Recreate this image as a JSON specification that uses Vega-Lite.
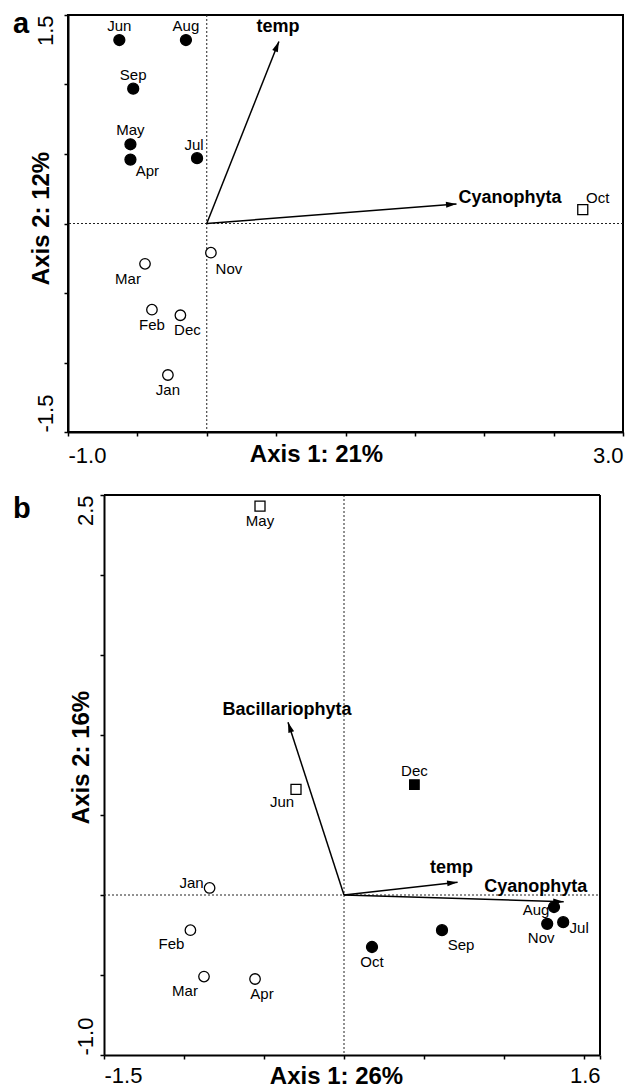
{
  "$schema": "https://vega.github.io/schema/vega-lite/v6.json",
  "background": "white",
  "padding": {"left": 12, "top": 9, "right": 0, "bottom": 0},
  "spacing": 27,
  "config": {
    "font": "Liberation Sans",
    "view": {"stroke": "black", "strokeWidth": 2},
    "axis": {"domainColor": "black", "domainWidth": 2, "tickColor": "black", "tickWidth": 1.5, "tickSize": 4, "labelColor": "black", "labelFontSize": 22, "labelFont": "Liberation Sans", "titleColor": "black", "titleFontSize": 24, "titleFontWeight": "bold", "titleFont": "Liberation Sans", "grid": false},
    "title": {"font": "Liberation Sans", "fontSize": 29, "fontWeight": "bold", "color": "black", "anchor": "start", "frame": "group", "baseline": "alphabetic", "offset": 0}
  },
  "datasets": {
    "pa": [
      {"m": "Jun", "x": -0.63, "y": 1.32, "g": 1},
      {"m": "Aug", "x": -0.15, "y": 1.32, "g": 1},
      {"m": "Sep", "x": -0.53, "y": 0.97, "g": 1},
      {"m": "May", "x": -0.55, "y": 0.57, "g": 1},
      {"m": "Apr", "x": -0.55, "y": 0.46, "g": 1},
      {"m": "Jul", "x": -0.07, "y": 0.47, "g": 1},
      {"m": "Nov", "x": 0.03, "y": -0.21, "g": 2},
      {"m": "Mar", "x": -0.445, "y": -0.29, "g": 2},
      {"m": "Feb", "x": -0.395, "y": -0.62, "g": 2},
      {"m": "Dec", "x": -0.19, "y": -0.66, "g": 2},
      {"m": "Jan", "x": -0.28, "y": -1.09, "g": 2},
      {"m": "Oct", "x": 2.71, "y": 0.10, "g": 3}
    ],
    "va": [
      {"name": "temp", "x": 0.52, "y": 1.31},
      {"name": "Cyanophyta", "x": 1.80, "y": 0.14}
    ],
    "pb": [
      {"m": "May", "x": -0.525, "y": 2.43, "g": 3},
      {"m": "Jun", "x": -0.30, "y": 0.66, "g": 3},
      {"m": "Dec", "x": 0.44, "y": 0.69, "g": 4},
      {"m": "Jan", "x": -0.84, "y": 0.044, "g": 2},
      {"m": "Feb", "x": -0.96, "y": -0.22, "g": 2},
      {"m": "Mar", "x": -0.875, "y": -0.51, "g": 2},
      {"m": "Apr", "x": -0.556, "y": -0.525, "g": 2},
      {"m": "Oct", "x": 0.175, "y": -0.325, "g": 1},
      {"m": "Sep", "x": 0.6125, "y": -0.22, "g": 1},
      {"m": "Aug", "x": 1.3125, "y": -0.075, "g": 1},
      {"m": "Nov", "x": 1.27, "y": -0.18, "g": 1},
      {"m": "Jul", "x": 1.37, "y": -0.17, "g": 1}
    ],
    "vb": [
      {"name": "Bacillariophyta", "x": -0.35, "y": 1.08},
      {"name": "temp", "x": 0.71, "y": 0.08},
      {"name": "Cyanophyta", "x": 1.373, "y": -0.042}
    ]
  },
  "vconcat": [
    {
      "width": 555,
      "height": 417,
      "title": {"text": "a", "dx": -55, "dy": 29},
      "layer": [
        {
          "data": {"values": [{}]},
          "mark": {"type": "rule", "strokeDash": [2, 2], "color": "#222", "strokeWidth": 1},
          "encoding": {"x": {"datum": 0, "type": "quantitative"}}
        },
        {
          "data": {"values": [{}]},
          "mark": {"type": "rule", "strokeDash": [2, 2], "color": "#222", "strokeWidth": 1},
          "encoding": {"y": {"datum": 0, "type": "quantitative"}}
        },
        {
          "data": {"name": "va"},
          "mark": {"type": "rule", "color": "black", "strokeWidth": 1.5},
          "encoding": {
            "x": {"field": "x", "type": "quantitative"},
            "y": {"field": "y", "type": "quantitative"},
            "x2": {"datum": 0},
            "y2": {"datum": 0}
          }
        },
        {
          "data": {"name": "va"},
          "mark": {"type": "point", "shape": "M0,0L-1,3.5L1,3.5Z", "size": 36, "filled": true, "color": "black", "opacity": 1, "angle": {"expr": "90 - atan2(datum.y, datum.x) * 180 / PI"}},
          "encoding": {
            "x": {"field": "x", "type": "quantitative"},
            "y": {"field": "y", "type": "quantitative"}
          }
        },
        {
          "data": {"name": "pa"},
          "mark": {"type": "point", "stroke": "black", "strokeWidth": 1.3, "opacity": 1},
          "encoding": {
            "x": {"field": "x", "type": "quantitative", "scale": {"domain": [-1, 3], "nice": false, "zero": false},
              "axis": {"values": [-1, -0.5, 0, 0.5, 1, 1.5, 2, 2.5, 3], "labelExpr": "datum.value == -1 ? '-1.0' : datum.value == 3 ? '3.0' : ''", "labelFlush": true, "labelOverlap": false, "labelPadding": 9, "title": "Axis 1: 21%", "titleX": 248, "titleY": 29, "titleBaseline": "alphabetic", "titleAlign": "center"}},
            "y": {"field": "y", "type": "quantitative", "scale": {"domain": [-1.5, 1.5], "nice": false, "zero": false},
              "axis": {"values": [-1.5, -1, -0.5, 0, 0.5, 1, 1.5], "labelExpr": "datum.value == 1.5 ? '1.5' : datum.value == -1.5 ? '-1.5' : ''", "labelAngle": 270, "labelAlign": {"condition": {"test": "datum.value > 0", "value": "right"}, "value": "left"}, "labelBaseline": "alphabetic", "labelPadding": 12, "labelOverlap": false, "title": "Axis 2: 12%", "titleX": -20, "titleY": 203, "titleAngle": 270, "titleBaseline": "alphabetic", "titleAlign": "center"}},
            "fill": {"field": "g", "type": "ordinal", "scale": {"domain": [1, 2, 3, 4], "range": ["black", "white", "white", "black"]}, "legend": null},
            "shape": {"field": "g", "type": "ordinal", "scale": {"domain": [1, 2, 3, 4], "range": ["circle", "circle", "square", "square"]}, "legend": null},
            "size": {"field": "g", "type": "ordinal", "scale": {"domain": [1, 2, 3, 4], "range": [120, 90, 100, 121]}, "legend": null}
          }
        },
        {
          "data": {"name": "pa"},
          "transform": [{"filter": {"field": "m", "oneOf": ["Jun", "Aug", "Sep", "May"]}}],
          "mark": {"type": "text", "fontSize": 15, "color": "black", "baseline": "middle", "align": "center", "dx": 0, "dy": -14},
          "encoding": {"x": {"field": "x", "type": "quantitative"}, "y": {"field": "y", "type": "quantitative"}, "text": {"field": "m"}}
        },
        {
          "data": {"name": "pa"},
          "transform": [{"filter": {"field": "m", "oneOf": ["Jul"]}}],
          "mark": {"type": "text", "fontSize": 15, "color": "black", "baseline": "middle", "align": "center", "dx": -3, "dy": -13},
          "encoding": {"x": {"field": "x", "type": "quantitative"}, "y": {"field": "y", "type": "quantitative"}, "text": {"field": "m"}}
        },
        {
          "data": {"name": "pa"},
          "transform": [{"filter": {"field": "m", "oneOf": ["Feb", "Jan"]}}],
          "mark": {"type": "text", "fontSize": 15, "color": "black", "baseline": "middle", "align": "center", "dx": 0, "dy": 15},
          "encoding": {"x": {"field": "x", "type": "quantitative"}, "y": {"field": "y", "type": "quantitative"}, "text": {"field": "m"}}
        },
        {
          "data": {"name": "pa"},
          "transform": [{"filter": {"field": "m", "oneOf": ["Dec"]}}],
          "mark": {"type": "text", "fontSize": 15, "color": "black", "baseline": "middle", "align": "center", "dx": 7, "dy": 15},
          "encoding": {"x": {"field": "x", "type": "quantitative"}, "y": {"field": "y", "type": "quantitative"}, "text": {"field": "m"}}
        },
        {
          "data": {"name": "pa"},
          "transform": [{"filter": {"field": "m", "oneOf": ["Apr"]}}],
          "mark": {"type": "text", "fontSize": 15, "color": "black", "baseline": "middle", "align": "center", "dx": 17, "dy": 11},
          "encoding": {"x": {"field": "x", "type": "quantitative"}, "y": {"field": "y", "type": "quantitative"}, "text": {"field": "m"}}
        },
        {
          "data": {"name": "pa"},
          "transform": [{"filter": {"field": "m", "oneOf": ["Nov"]}}],
          "mark": {"type": "text", "fontSize": 15, "color": "black", "baseline": "middle", "align": "center", "dx": 18, "dy": 16},
          "encoding": {"x": {"field": "x", "type": "quantitative"}, "y": {"field": "y", "type": "quantitative"}, "text": {"field": "m"}}
        },
        {
          "data": {"name": "pa"},
          "transform": [{"filter": {"field": "m", "oneOf": ["Mar"]}}],
          "mark": {"type": "text", "fontSize": 15, "color": "black", "baseline": "middle", "align": "center", "dx": -17, "dy": 15},
          "encoding": {"x": {"field": "x", "type": "quantitative"}, "y": {"field": "y", "type": "quantitative"}, "text": {"field": "m"}}
        },
        {
          "data": {"name": "pa"},
          "transform": [{"filter": {"field": "m", "oneOf": ["Oct"]}}],
          "mark": {"type": "text", "fontSize": 15, "color": "black", "baseline": "middle", "align": "center", "dx": 15, "dy": -12},
          "encoding": {"x": {"field": "x", "type": "quantitative"}, "y": {"field": "y", "type": "quantitative"}, "text": {"field": "m"}}
        },
        {
          "data": {"name": "va"},
          "transform": [{"filter": {"field": "name", "oneOf": ["temp"]}}],
          "mark": {"type": "text", "fontSize": 18, "fontWeight": "bold", "color": "black", "baseline": "middle", "align": "center", "dx": -1, "dy": -14},
          "encoding": {"x": {"field": "x", "type": "quantitative"}, "y": {"field": "y", "type": "quantitative"}, "text": {"field": "name"}}
        },
        {
          "data": {"name": "va"},
          "transform": [{"filter": {"field": "name", "oneOf": ["Cyanophyta"]}}],
          "mark": {"type": "text", "fontSize": 18, "fontWeight": "bold", "color": "black", "baseline": "middle", "align": "left", "dx": 2, "dy": -6},
          "encoding": {"x": {"field": "x", "type": "quantitative"}, "y": {"field": "y", "type": "quantitative"}, "text": {"field": "name"}}
        }
      ]
    },
    {
      "width": 532,
      "height": 560,
      "view": {"stroke": null},
      "title": {"text": "b", "dx": -55, "dy": 34},
      "layer": [
        {
          "data": {"values": [{}]},
          "mark": {"type": "rule", "strokeDash": [2, 2], "color": "#222", "strokeWidth": 1},
          "encoding": {"x": {"datum": 0, "type": "quantitative"}}
        },
        {
          "data": {"values": [{}]},
          "mark": {"type": "rule", "strokeDash": [2, 2], "color": "#222", "strokeWidth": 1},
          "encoding": {"y": {"datum": 0, "type": "quantitative"}, "x": {"datum": -1.5, "type": "quantitative"}, "x2": {"datum": 1.6}}
        },
        {
          "data": {"values": [{}]},
          "mark": {"type": "rule", "color": "black", "strokeWidth": 2},
          "encoding": {"y": {"datum": 2.5, "type": "quantitative"}, "x": {"datum": -1.5, "type": "quantitative"}, "x2": {"datum": 1.6}}
        },
        {
          "data": {"values": [{}]},
          "mark": {"type": "rule", "color": "black", "strokeWidth": 2},
          "encoding": {"x": {"datum": 1.6, "type": "quantitative"}}
        },
        {
          "data": {"name": "vb"},
          "mark": {"type": "rule", "color": "black", "strokeWidth": 1.5},
          "encoding": {
            "x": {"field": "x", "type": "quantitative"},
            "y": {"field": "y", "type": "quantitative"},
            "x2": {"datum": 0},
            "y2": {"datum": 0}
          }
        },
        {
          "data": {"name": "vb"},
          "mark": {"type": "point", "shape": "M0,0L-1,3.5L1,3.5Z", "size": 36, "filled": true, "color": "black", "opacity": 1, "angle": {"expr": "90 - atan2(datum.y, datum.x) * 180 / PI"}},
          "encoding": {
            "x": {"field": "x", "type": "quantitative"},
            "y": {"field": "y", "type": "quantitative"}
          }
        },
        {
          "data": {"name": "pb"},
          "mark": {"type": "point", "stroke": "black", "strokeWidth": 1.3, "opacity": 1},
          "encoding": {
            "x": {"field": "x", "type": "quantitative", "scale": {"domain": [-1.5, 1.6], "nice": false, "zero": false, "range": [36, 532]},
              "axis": {"values": [-1.5, -1, -0.5, 0, 0.5, 1, 1.5, 1.6], "labelExpr": "datum.value == -1.5 ? '-1.5' : datum.value == 1.6 ? '1.6' : ''", "labelFlush": true, "labelOverlap": false, "labelPadding": 6, "title": "Axis 1: 26%", "titleX": 268, "titleY": 28, "titleBaseline": "alphabetic", "titleAlign": "center"}},
            "y": {"field": "y", "type": "quantitative", "scale": {"domain": [-1, 2.5], "nice": false, "zero": false},
              "axis": {"offset": -36, "values": [-1, -0.5, 0, 0.5, 1, 1.5, 2, 2.5], "labelExpr": "datum.value == 2.5 ? '2.5' : datum.value == -1 ? '-1.0' : ''", "labelAngle": 270, "labelAlign": {"condition": {"test": "datum.value > 0", "value": "right"}, "value": "left"}, "labelBaseline": "alphabetic", "labelPadding": 8, "labelOverlap": false, "title": "Axis 2: 16%", "titleX": -16, "titleY": 262, "titleAngle": 270, "titleBaseline": "alphabetic", "titleAlign": "center"}},
            "fill": {"field": "g", "type": "ordinal", "scale": {"domain": [1, 2, 3, 4], "range": ["black", "white", "white", "black"]}, "legend": null},
            "shape": {"field": "g", "type": "ordinal", "scale": {"domain": [1, 2, 3, 4], "range": ["circle", "circle", "square", "square"]}, "legend": null},
            "size": {"field": "g", "type": "ordinal", "scale": {"domain": [1, 2, 3, 4], "range": [120, 90, 110, 121]}, "legend": null}
          }
        },
        {
          "data": {"name": "pb"},
          "transform": [{"filter": {"field": "m", "oneOf": ["May", "Oct"]}}],
          "mark": {"type": "text", "fontSize": 15, "color": "black", "baseline": "middle", "align": "center", "dx": 0, "dy": 15},
          "encoding": {"x": {"field": "x", "type": "quantitative"}, "y": {"field": "y", "type": "quantitative"}, "text": {"field": "m"}}
        },
        {
          "data": {"name": "pb"},
          "transform": [{"filter": {"field": "m", "oneOf": ["Jun"]}}],
          "mark": {"type": "text", "fontSize": 15, "color": "black", "baseline": "middle", "align": "center", "dx": -14, "dy": 13},
          "encoding": {"x": {"field": "x", "type": "quantitative"}, "y": {"field": "y", "type": "quantitative"}, "text": {"field": "m"}}
        },
        {
          "data": {"name": "pb"},
          "transform": [{"filter": {"field": "m", "oneOf": ["Dec"]}}],
          "mark": {"type": "text", "fontSize": 15, "color": "black", "baseline": "middle", "align": "center", "dx": 0, "dy": -14},
          "encoding": {"x": {"field": "x", "type": "quantitative"}, "y": {"field": "y", "type": "quantitative"}, "text": {"field": "m"}}
        },
        {
          "data": {"name": "pb"},
          "transform": [{"filter": {"field": "m", "oneOf": ["Jan"]}}],
          "mark": {"type": "text", "fontSize": 15, "color": "black", "baseline": "middle", "align": "center", "dx": -18, "dy": -5},
          "encoding": {"x": {"field": "x", "type": "quantitative"}, "y": {"field": "y", "type": "quantitative"}, "text": {"field": "m"}}
        },
        {
          "data": {"name": "pb"},
          "transform": [{"filter": {"field": "m", "oneOf": ["Feb", "Mar"]}}],
          "mark": {"type": "text", "fontSize": 15, "color": "black", "baseline": "middle", "align": "center", "dx": -19, "dy": 14},
          "encoding": {"x": {"field": "x", "type": "quantitative"}, "y": {"field": "y", "type": "quantitative"}, "text": {"field": "m"}}
        },
        {
          "data": {"name": "pb"},
          "transform": [{"filter": {"field": "m", "oneOf": ["Apr"]}}],
          "mark": {"type": "text", "fontSize": 15, "color": "black", "baseline": "middle", "align": "center", "dx": 7, "dy": 15},
          "encoding": {"x": {"field": "x", "type": "quantitative"}, "y": {"field": "y", "type": "quantitative"}, "text": {"field": "m"}}
        },
        {
          "data": {"name": "pb"},
          "transform": [{"filter": {"field": "m", "oneOf": ["Sep"]}}],
          "mark": {"type": "text", "fontSize": 15, "color": "black", "baseline": "middle", "align": "center", "dx": 19, "dy": 15},
          "encoding": {"x": {"field": "x", "type": "quantitative"}, "y": {"field": "y", "type": "quantitative"}, "text": {"field": "m"}}
        },
        {
          "data": {"name": "pb"},
          "transform": [{"filter": {"field": "m", "oneOf": ["Aug"]}}],
          "mark": {"type": "text", "fontSize": 15, "color": "black", "baseline": "middle", "align": "center", "dx": -18, "dy": 3},
          "encoding": {"x": {"field": "x", "type": "quantitative"}, "y": {"field": "y", "type": "quantitative"}, "text": {"field": "m"}}
        },
        {
          "data": {"name": "pb"},
          "transform": [{"filter": {"field": "m", "oneOf": ["Nov"]}}],
          "mark": {"type": "text", "fontSize": 15, "color": "black", "baseline": "middle", "align": "center", "dx": -6, "dy": 14},
          "encoding": {"x": {"field": "x", "type": "quantitative"}, "y": {"field": "y", "type": "quantitative"}, "text": {"field": "m"}}
        },
        {
          "data": {"name": "pb"},
          "transform": [{"filter": {"field": "m", "oneOf": ["Jul"]}}],
          "mark": {"type": "text", "fontSize": 15, "color": "black", "baseline": "middle", "align": "center", "dx": 16, "dy": 6},
          "encoding": {"x": {"field": "x", "type": "quantitative"}, "y": {"field": "y", "type": "quantitative"}, "text": {"field": "m"}}
        },
        {
          "data": {"name": "vb"},
          "transform": [{"filter": {"field": "name", "oneOf": ["Bacillariophyta"]}}],
          "mark": {"type": "text", "fontSize": 18, "fontWeight": "bold", "color": "black", "baseline": "middle", "align": "center", "dx": -1, "dy": -12},
          "encoding": {"x": {"field": "x", "type": "quantitative"}, "y": {"field": "y", "type": "quantitative"}, "text": {"field": "name"}}
        },
        {
          "data": {"name": "vb"},
          "transform": [{"filter": {"field": "name", "oneOf": ["temp"]}}],
          "mark": {"type": "text", "fontSize": 18, "fontWeight": "bold", "color": "black", "baseline": "middle", "align": "center", "dx": -6, "dy": -14},
          "encoding": {"x": {"field": "x", "type": "quantitative"}, "y": {"field": "y", "type": "quantitative"}, "text": {"field": "name"}}
        },
        {
          "data": {"name": "vb"},
          "transform": [{"filter": {"field": "name", "oneOf": ["Cyanophyta"]}}],
          "mark": {"type": "text", "fontSize": 18, "fontWeight": "bold", "color": "black", "baseline": "middle", "align": "center", "dx": -28, "dy": -15},
          "encoding": {"x": {"field": "x", "type": "quantitative"}, "y": {"field": "y", "type": "quantitative"}, "text": {"field": "name"}}
        }
      ]
    }
  ]
}
